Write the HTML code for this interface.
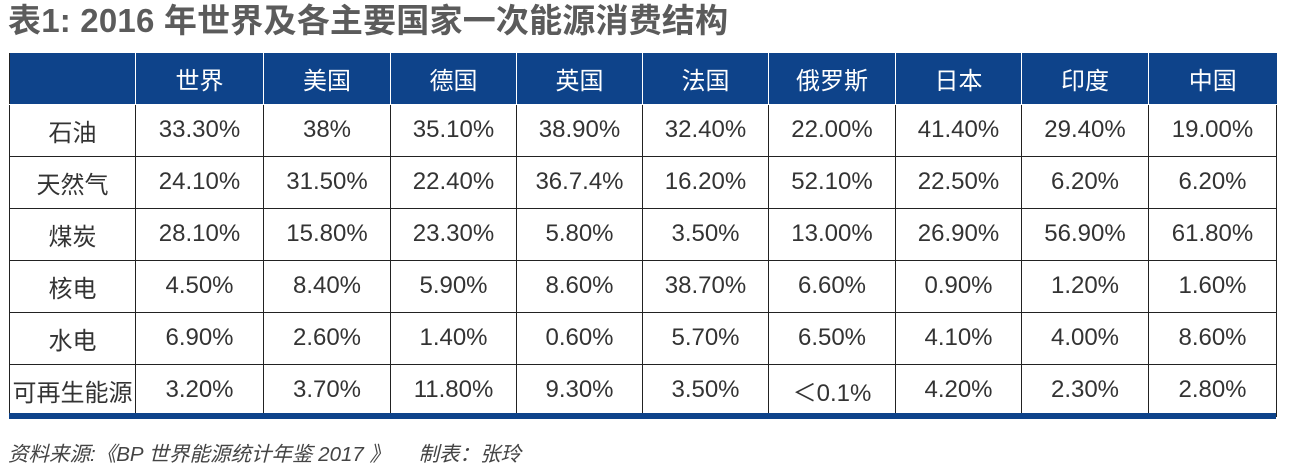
<!DOCTYPE html>
<html><head><meta charset="utf-8"><style>
body{margin:0;width:1289px;height:462px;background:#fff;position:relative;overflow:hidden;font-family:"Liberation Sans","Noto Sans CJK SC",sans-serif;}
.t{position:absolute;left:8px;top:0;font-size:33px;font-weight:bold;color:#5b5b5b;line-height:42px;letter-spacing:0.2px}
table{position:absolute;left:9px;top:53px;border-collapse:collapse;table-layout:fixed;width:1267px}
td{border:1.5px solid #222;height:52px;text-align:center;font-size:24px;color:#333;padding:0;box-sizing:border-box}
tr{height:52px}
tr.h{height:51px}
tr.h td{background:#0e438a;color:#fff;border-color:#fff;border-top:none;height:51px}
tr.h td:first-child{border-left:1.5px solid #222}
tr.h td:last-child{border-right:none}
.bar{position:absolute;left:9px;top:413px;width:1267px;height:6px;background:#0e438a}
.f{position:absolute;left:8px;top:437px;font-size:20.5px;font-style:italic;color:#444}
</style></head><body>
<div class="t">表1: 2016 年世界及各主要国家一次能源消费结构</div>
<table>
<colgroup><col style="width:126px"><col style="width:128px"><col style="width:127px"><col style="width:126px"><col style="width:126px"><col style="width:126px"><col style="width:127px"><col style="width:126px"><col style="width:127px"><col style="width:128px"></colgroup>
<tr class="h"><td></td><td>世界</td><td>美国</td><td>德国</td><td>英国</td><td>法国</td><td>俄罗斯</td><td>日本</td><td>印度</td><td>中国</td></tr>
<tr><td>石油</td><td>33.30%</td><td>38%</td><td>35.10%</td><td>38.90%</td><td>32.40%</td><td>22.00%</td><td>41.40%</td><td>29.40%</td><td>19.00%</td></tr>
<tr><td>天然气</td><td>24.10%</td><td>31.50%</td><td>22.40%</td><td>36.7.4%</td><td>16.20%</td><td>52.10%</td><td>22.50%</td><td>6.20%</td><td>6.20%</td></tr>
<tr><td>煤炭</td><td>28.10%</td><td>15.80%</td><td>23.30%</td><td>5.80%</td><td>3.50%</td><td>13.00%</td><td>26.90%</td><td>56.90%</td><td>61.80%</td></tr>
<tr><td>核电</td><td>4.50%</td><td>8.40%</td><td>5.90%</td><td>8.60%</td><td>38.70%</td><td>6.60%</td><td>0.90%</td><td>1.20%</td><td>1.60%</td></tr>
<tr><td>水电</td><td>6.90%</td><td>2.60%</td><td>1.40%</td><td>0.60%</td><td>5.70%</td><td>6.50%</td><td>4.10%</td><td>4.00%</td><td>8.60%</td></tr>
<tr><td>可再生能源</td><td>3.20%</td><td>3.70%</td><td>11.80%</td><td>9.30%</td><td>3.50%</td><td>＜0.1%</td><td>4.20%</td><td>2.30%</td><td>2.80%</td></tr>
</table>
<div class="bar"></div>
<div class="f">资料来源:《BP 世界能源统计年鉴 2017 》&nbsp;&nbsp;&nbsp;&nbsp;&nbsp;制表：张玲</div>
</body></html>
